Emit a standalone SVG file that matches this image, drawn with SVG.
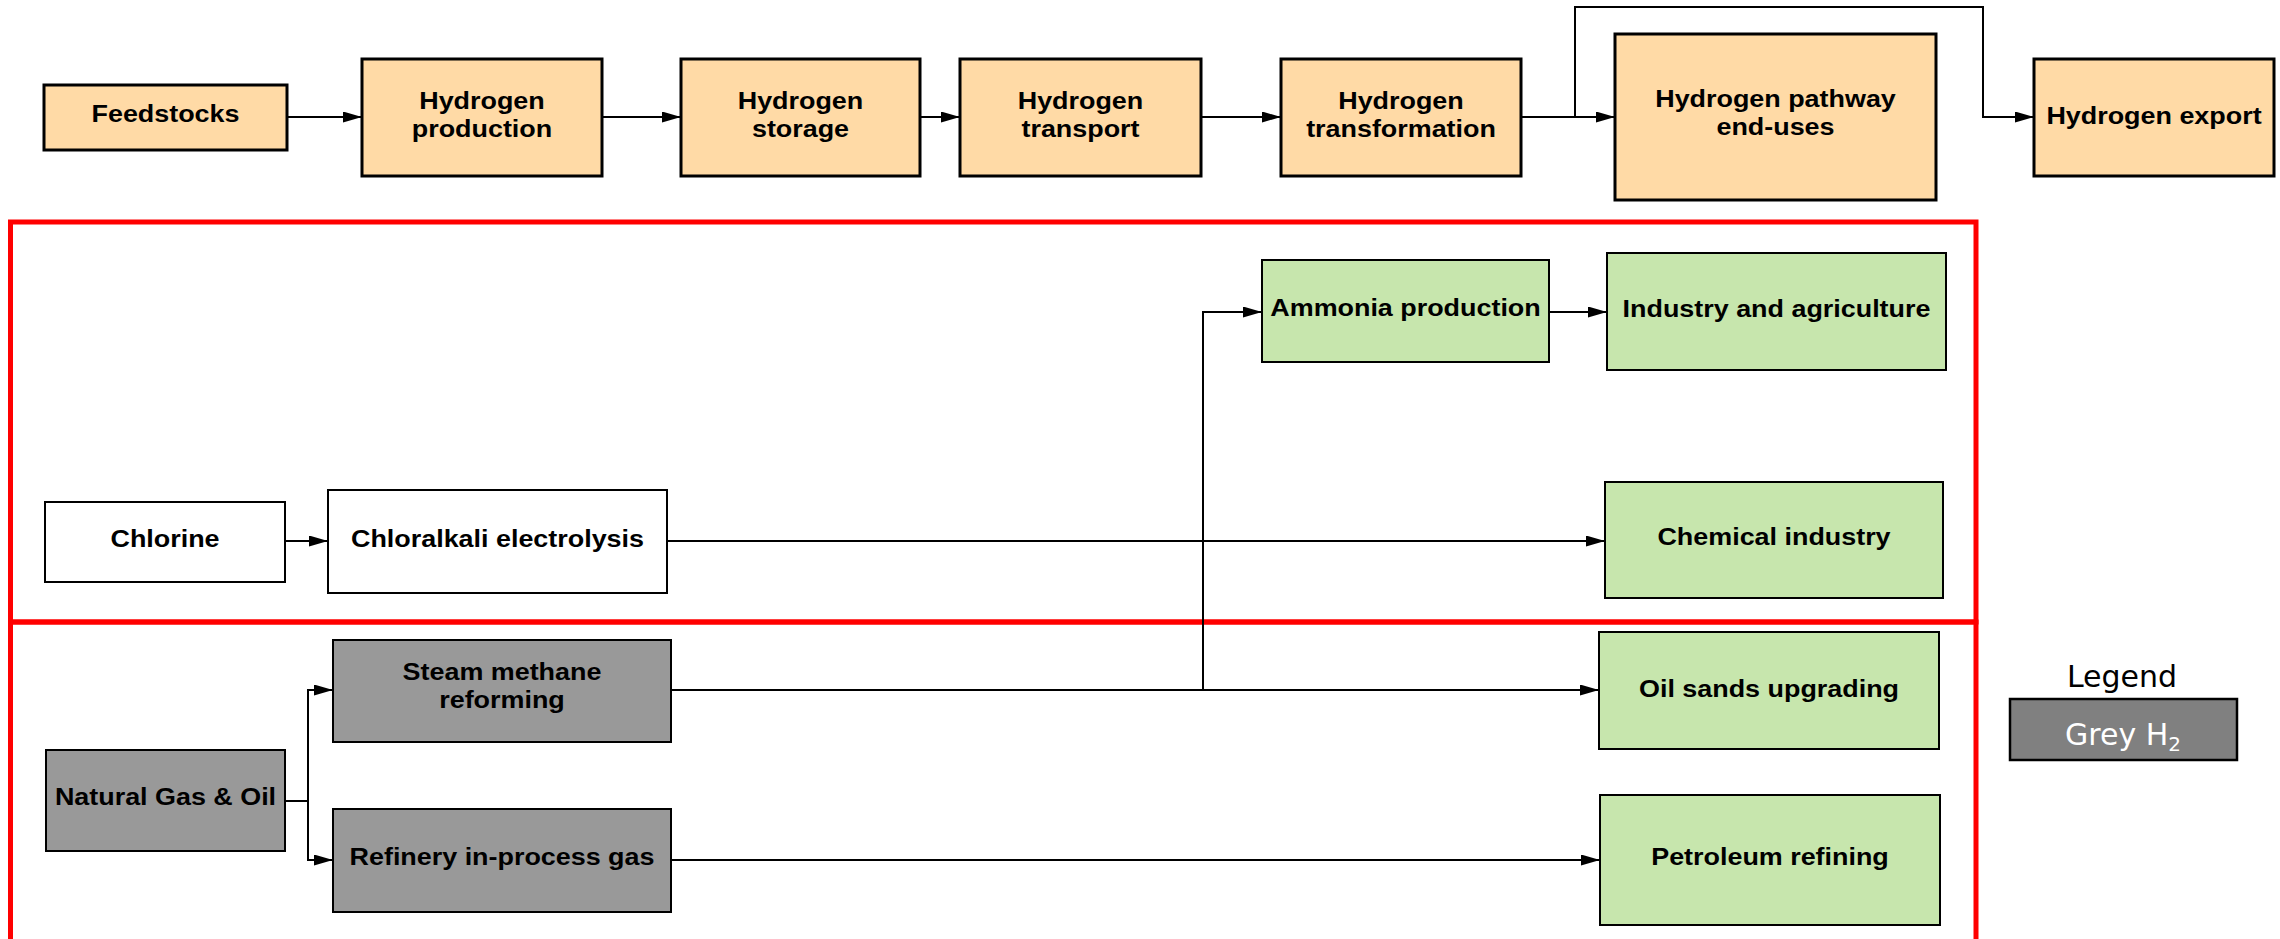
<svg xmlns="http://www.w3.org/2000/svg" width="2280" height="939" viewBox="0 0 2280 939">
  <defs>
    <marker id="arrow" markerUnits="userSpaceOnUse" markerWidth="20" markerHeight="12" refX="19" refY="5.5" orient="auto">
      <path d="M0,0 L19,5.5 L0,11 z" fill="#000"/>
    </marker>
    <style>
      .chain { fill: #FFDAA6; stroke: #000; stroke-width: 3; }
      .src { fill: #FFFFFF; stroke: #000; stroke-width: 2; }
      .grey { fill: #999999; stroke: #000; stroke-width: 2; }
      .use { fill: #C7E6AD; stroke: #000; stroke-width: 2; }
      .lbl { font-family: "Liberation Sans", Arial, sans-serif; font-weight: bold; font-size: 23px; fill: #000; text-anchor: middle; }
      .wire { fill: none; stroke: #000; stroke-width: 2; }
      .arr { marker-end: url(#arrow); }
      .zone { fill: none; stroke: #FF0000; stroke-width: 5; }
      .legend { font-family: "DejaVu Sans", Verdana, sans-serif; font-size: 30px; text-anchor: middle; }
    </style>
  </defs>
  <rect width="2280" height="939" fill="#FFFFFF"/>

  <!-- grouping frames -->
  <g id="zones">
    <rect class="zone" x="10.5" y="222" width="1965.5" height="400"/>
    <rect class="zone" x="10.5" y="622" width="1965.5" height="400"/>
  </g>

  <!-- connectors -->
  <g id="connectors">
    <line class="wire arr" x1="287" y1="117" x2="362" y2="117"/>
    <line class="wire arr" x1="602" y1="117" x2="681" y2="117"/>
    <line class="wire arr" x1="920" y1="117" x2="960" y2="117"/>
    <line class="wire arr" x1="1201" y1="117" x2="1281" y2="117"/>
    <line class="wire arr" x1="1521" y1="117" x2="1615" y2="117"/>
    <polyline class="wire arr" points="1575,117 1575,7 1983,7 1983,117 2034,117"/>

    <line class="wire arr" x1="285" y1="541" x2="328" y2="541"/>
    <line class="wire arr" x1="667" y1="541" x2="1605" y2="541"/>

    <polyline class="wire" points="285,801 308,801"/>
    <polyline class="wire arr" points="308,801 308,690 333,690"/>
    <polyline class="wire arr" points="308,801 308,860 333,860"/>

    <line class="wire arr" x1="671" y1="690" x2="1599" y2="690"/>
    <polyline class="wire arr" points="1203,690 1203,312 1262,312"/>
    <line class="wire arr" x1="1549" y1="312" x2="1607" y2="312"/>
    <line class="wire arr" x1="671" y1="860" x2="1600" y2="860"/>
  </g>

  <!-- hydrogen value chain -->
  <g id="feedstocks">
    <rect class="chain" x="44" y="85" width="243" height="65"/>
    <text class="lbl" transform="translate(165.5,122) scale(1.17,1)">Feedstocks</text>
  </g>
  <g id="h2-production">
    <rect class="chain" x="362" y="59" width="240" height="117"/>
    <text class="lbl" transform="translate(482,109) scale(1.17,1)"><tspan x="0">Hydrogen</tspan><tspan x="0" dy="28">production</tspan></text>
  </g>
  <g id="h2-storage">
    <rect class="chain" x="681" y="59" width="239" height="117"/>
    <text class="lbl" transform="translate(800.5,109) scale(1.17,1)"><tspan x="0">Hydrogen</tspan><tspan x="0" dy="28">storage</tspan></text>
  </g>
  <g id="h2-transport">
    <rect class="chain" x="960" y="59" width="241" height="117"/>
    <text class="lbl" transform="translate(1080.5,109) scale(1.17,1)"><tspan x="0">Hydrogen</tspan><tspan x="0" dy="28">transport</tspan></text>
  </g>
  <g id="h2-transformation">
    <rect class="chain" x="1281" y="59" width="240" height="117"/>
    <text class="lbl" transform="translate(1401,109) scale(1.17,1)"><tspan x="0">Hydrogen</tspan><tspan x="0" dy="28">transformation</tspan></text>
  </g>
  <g id="h2-end-uses">
    <rect class="chain" x="1615" y="34" width="321" height="166"/>
    <text class="lbl" transform="translate(1775.5,107) scale(1.17,1)"><tspan x="0">Hydrogen pathway</tspan><tspan x="0" dy="28">end-uses</tspan></text>
  </g>
  <g id="h2-export">
    <rect class="chain" x="2034" y="59" width="240" height="117"/>
    <text class="lbl" transform="translate(2154,124) scale(1.17,1)">Hydrogen export</text>
  </g>

  <!-- chlor-alkali route -->
  <g id="chlorine">
    <rect class="src" x="45" y="502" width="240" height="80"/>
    <text class="lbl" transform="translate(165,547) scale(1.17,1)">Chlorine</text>
  </g>
  <g id="chloralkali">
    <rect class="src" x="328" y="490" width="339" height="103"/>
    <text class="lbl" transform="translate(497.5,547) scale(1.17,1)">Chloralkali electrolysis</text>
  </g>

  <!-- fossil (grey) route -->
  <g id="natural-gas-oil">
    <rect class="grey" x="46" y="750" width="239" height="101"/>
    <text class="lbl" transform="translate(165.5,805) scale(1.17,1)">Natural Gas &amp; Oil</text>
  </g>
  <g id="steam-methane-reforming">
    <rect class="grey" x="333" y="640" width="338" height="102"/>
    <text class="lbl" transform="translate(502,680) scale(1.17,1)"><tspan x="0">Steam methane</tspan><tspan x="0" dy="28">reforming</tspan></text>
  </g>
  <g id="refinery-gas">
    <rect class="grey" x="333" y="809" width="338" height="103"/>
    <text class="lbl" transform="translate(502,865) scale(1.17,1)">Refinery in-process gas</text>
  </g>

  <!-- end uses -->
  <g id="ammonia-production">
    <rect class="use" x="1262" y="260" width="287" height="102"/>
    <text class="lbl" transform="translate(1405.5,316) scale(1.17,1)">Ammonia production</text>
  </g>
  <g id="industry-agriculture">
    <rect class="use" x="1607" y="253" width="339" height="117"/>
    <text class="lbl" transform="translate(1776.5,317) scale(1.17,1)">Industry and agriculture</text>
  </g>
  <g id="chemical-industry">
    <rect class="use" x="1605" y="482" width="338" height="116"/>
    <text class="lbl" transform="translate(1774,545) scale(1.17,1)">Chemical industry</text>
  </g>
  <g id="oil-sands">
    <rect class="use" x="1599" y="632" width="340" height="117"/>
    <text class="lbl" transform="translate(1769,697) scale(1.17,1)">Oil sands upgrading</text>
  </g>
  <g id="petroleum-refining">
    <rect class="use" x="1600" y="795" width="340" height="130"/>
    <text class="lbl" transform="translate(1770,865) scale(1.17,1)">Petroleum refining</text>
  </g>

  <!-- legend -->
  <g id="legend">
    <text class="legend" x="2122" y="687" fill="#000">Legend</text>
    <rect x="2010" y="699" width="227" height="61" fill="#808080" stroke="#000" stroke-width="2.5"/>
    <text class="legend" x="2123" y="745" fill="#FFFFFF">Grey H<tspan font-size="20" dy="6">2</tspan></text>
  </g>
</svg>
